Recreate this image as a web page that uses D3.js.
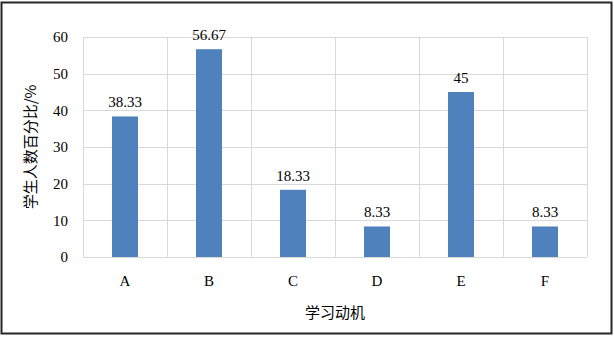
<!DOCTYPE html>
<html>
<head>
<meta charset="utf-8">
<script src="https://cdn.jsdelivr.net/npm/d3@7"></script>
<style>
  html, body { margin: 0; padding: 0; background: #fff; }
</style>
</head>
<body>
<script>
// 数据
const categories = ["A", "B", "C", "D", "E", "F"];
const values = [38.33, 56.67, 18.33, 8.33, 45, 8.33];
const valueLabels = ["38.33", "56.67", "18.33", "8.33", "45", "8.33"];
const yTicks = [0, 10, 20, 30, 40, 50, 60];
const xTitle = "学习动机";
const yTitle = "学生人数百分比/%";

const width = 614, height = 339;
const margin = { top: 37, right: 27, bottom: 82, left: 83 };
const serif = "'Liberation Serif', 'Times New Roman', serif";
const cjk = "'Noto Sans CJK SC', sans-serif";

const svg = d3.select("body").append("svg")
  .attr("width", width)
  .attr("height", height);

// 外框
svg.append("rect")
  .attr("x", 1.5).attr("y", 2.5)
  .attr("width", 610).attr("height", 331)
  .attr("fill", "#fff")
  .attr("stroke", "#262626")
  .attr("stroke-width", 2);

const x = d3.scaleBand()
  .domain(categories)
  .range([margin.left, width - margin.right])
  .paddingInner(0.69)
  .paddingOuter(0.345);

const xGrid = d3.scaleBand()
  .domain(categories)
  .range([margin.left, width - margin.right]);

const y = d3.scaleLinear()
  .domain([0, 60])
  .range([height - margin.bottom, margin.top]);

const grid = svg.append("g")
  .attr("stroke", "#d9d9d9")
  .attr("stroke-width", 1);

// 横向网格
grid.selectAll("line.h")
  .data(yTicks)
  .join("line")
  .attr("class", "h")
  .attr("x1", margin.left).attr("x2", width - margin.right)
  .attr("y1", d => Math.round(y(d)) + 0.5)
  .attr("y2", d => Math.round(y(d)) + 0.5);

// 纵向网格
grid.selectAll("line.v")
  .data(categories.map(c => xGrid(c)).concat([width - margin.right]))
  .join("line")
  .attr("class", "v")
  .attr("x1", d => Math.round(d) + 0.5).attr("x2", d => Math.round(d) + 0.5)
  .attr("y1", y(60)).attr("y2", y(0));

// 柱子
svg.append("g")
  .selectAll("rect")
  .data(values)
  .join("rect")
  .attr("x", (d, i) => x(categories[i]))
  .attr("y", d => y(d))
  .attr("width", x.bandwidth())
  .attr("height", d => y(0) - y(d))
  .attr("fill", "#4f81bd");

// 数值标签
svg.append("g")
  .attr("text-anchor", "middle")
  .style("font", `15px ${serif}`)
  .attr("fill", "#000")
  .selectAll("text")
  .data(values)
  .join("text")
  .attr("x", (d, i) => x(categories[i]) + x.bandwidth() / 2)
  .attr("y", d => y(d) - 9)
  .text((d, i) => valueLabels[i]);

// y 轴刻度
svg.append("g")
  .attr("text-anchor", "end")
  .style("font", `15px ${serif}`)
  .selectAll("text")
  .data(yTicks)
  .join("text")
  .attr("x", 68)
  .attr("y", d => y(d))
  .attr("dy", "0.35em")
  .text(d => d);

// x 轴类别
svg.append("g")
  .attr("text-anchor", "middle")
  .style("font", `15px ${serif}`)
  .selectAll("text")
  .data(categories)
  .join("text")
  .attr("x", d => xGrid(d) + xGrid.bandwidth() / 2)
  .attr("y", 286)
  .text(d => d);

// 轴标题
svg.append("text")
  .attr("x", (margin.left + width - margin.right) / 2)
  .attr("y", 318)
  .attr("text-anchor", "middle")
  .style("font", `15px ${cjk}`)
  .text(xTitle);

svg.append("text")
  .attr("transform", `translate(36,${(y(0) + y(60)) / 2}) rotate(-90)`)
  .attr("text-anchor", "middle")
  .style("font", `15px ${cjk}`)
  .text(yTitle);
</script>
</body>
</html>
